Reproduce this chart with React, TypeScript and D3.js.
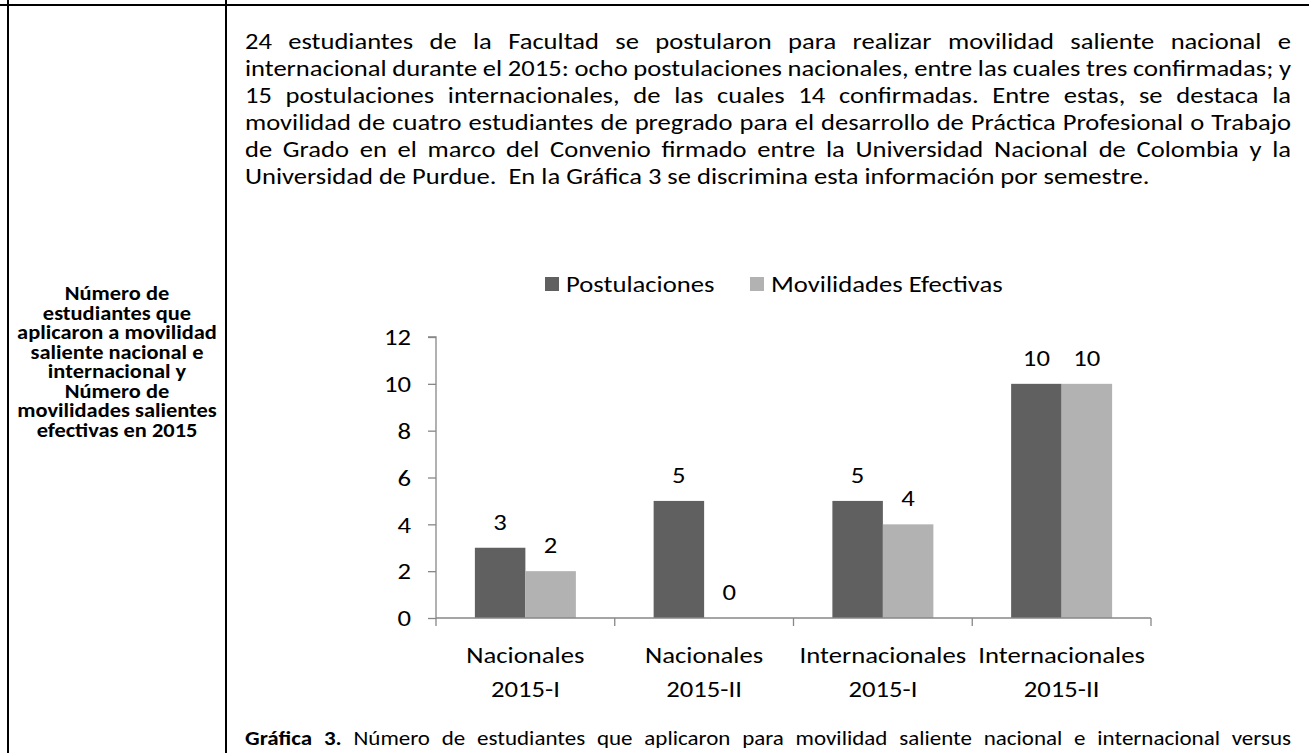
import React, { useEffect, useRef } from "react";
import * as d3 from "d3";

const categories = ["Nacionales|2015-I", "Nacionales|2015-II", "Internacionales|2015-I", "Internacionales|2015-II"];
const seriesNames = ["Postulaciones", "Movilidades Efectivas"];
const postulaciones = [3, 5, 5, 10];
const movilidades = [2, 0, 4, 10];
const yTicks = [0, 2, 4, 6, 8, 10, 12];

const bodyLines = [
    "24 estudiantes de la Facultad se postularon para realizar movilidad saliente nacional e",
    "internacional durante el 2015: ocho postulaciones nacionales, entre las cuales tres confirmadas; y",
    "15 postulaciones internacionales, de las cuales 14 confirmadas. Entre estas, se destaca la",
    "movilidad de cuatro estudiantes de pregrado para el desarrollo de Práctica Profesional o Trabajo",
    "de Grado en el marco del Convenio firmado entre la Universidad Nacional de Colombia y la",
    "Universidad de Purdue.  En la Gráfica 3 se discrimina esta información por semestre."
];

const sideLines = [
    "Número de",
    "estudiantes que",
    "aplicaron a movilidad",
    "saliente nacional e",
    "internacional y",
    "Número de",
    "movilidades salientes",
    "efectivas en 2015"
];

const captionBold = ["Gráfica", "3."];
const captionText = "Número de estudiantes que aplicaron para movilidad saliente nacional e internacional versus";

const FONT = "Calibri, Carlito, Lato, sans-serif";
const W = 1309;
const H = 753;
// the scan is a bit wider than tall, so text glyphs get stretched sideways
const SX = 1.15;

type G = d3.Selection<SVGGElement, unknown, null, undefined>;

const App = () => {
    const ref = useRef<SVGSVGElement>(null);

    useEffect(() => {
        const svg = d3.select(ref.current);
        svg.selectAll("*").remove();

        const put = (g: G, x: number, y: number, t: string | number, anchor = "start") =>
            g.append("text")
                .attr("transform", `translate(${x},${y}) scale(${SX},1)`)
                .attr("text-anchor", anchor)
                .style("white-space", "pre")
                .text(t);

        // table borders
        const border = svg.append("g").attr("stroke", "#000").attr("stroke-width", 2);
        border.append("line").attr("x1", 0).attr("x2", W).attr("y1", 5).attr("y2", 5);
        border.append("line").attr("x1", 8).attr("x2", 8).attr("y1", 0).attr("y2", H);
        border.append("line").attr("x1", 226).attr("x2", 226).attr("y1", 0).attr("y2", H);

        // justified line: words placed one by one
        const justify = (g: G, words: { t: string, bold?: boolean }[], x0: number, x1: number, y: number) => {
            const nodes = words.map(w => put(g, 0, y, w.t).attr("font-weight", w.bold ? "bold" : "normal"));
            const widths = nodes.map(n => (n.node() as SVGTextElement).getComputedTextLength() * SX);
            const gap = (x1 - x0 - d3.sum(widths)) / (words.length - 1);
            let x = x0;
            nodes.forEach((n, i) => {
                n.attr("transform", `translate(${x},${y}) scale(${SX},1)`);
                x += widths[i] + gap;
            });
        };

        const body = svg.append("g")
            .attr("font-family", FONT)
            .attr("font-size", 23.1)
            .attr("fill", "#000");
        bodyLines.forEach((line, i) => {
            const yy = 48.5 + i * 27;
            if (i < bodyLines.length - 1) {
                justify(body, line.split(/\s+/).map(t => ({ t })), 245, 1291, yy);
            } else {
                put(body, 245, yy, line);
            }
        });

        const caption = svg.append("g")
            .attr("font-family", FONT)
            .attr("font-size", 20)
            .attr("fill", "#000");
        justify(caption, captionBold.map(t => ({ t, bold: true }))
            .concat(captionText.split(" ").map(t => ({ t, bold: false }))), 245, 1291, 745);

        // left cell
        const side = svg.append("g")
            .attr("font-family", FONT)
            .attr("font-size", 19.5)
            .attr("font-weight", "bold");
        sideLines.forEach((t, i) => put(side, 117, 300 + i * 19.5, t, "middle"));

        // chart
        const y = d3.scaleLinear().domain([0, 12]).range([618, 337]);
        const x0 = d3.scaleBand<string>().domain(categories).range([436, 1151]).padding(0);
        const x1 = d3.scaleBand<string>().domain(seriesNames).range([0, x0.bandwidth()])
            .paddingInner(0).paddingOuter(0.77);
        const colors = ["#606060", "#b2b2b2"];
        const values = [postulaciones, movilidades];

        const chart = svg.append("g").attr("font-family", FONT).attr("font-size", 23.2).attr("fill", "#000");

        seriesNames.forEach((s, si) => {
            chart.append("g")
                .selectAll("rect")
                .data(categories)
                .join("rect")
                .attr("x", c => (x0(c) as number) + (x1(s) as number))
                .attr("width", x1.bandwidth())
                .attr("y", (_, i) => y(values[si][i]))
                .attr("height", (_, i) => y(0) - y(values[si][i]))
                .attr("fill", colors[si]);

            categories.forEach((c, i) => {
                const cx = (x0(c) as number) + (x1(s) as number) + x1.bandwidth() / 2;
                put(chart, cx, y(values[si][i]) - 18, values[si][i], "middle");
            });
        });

        // y axis
        chart.append("g")
            .attr("transform", "translate(436,0)")
            .call(d3.axisLeft(y).tickValues(yTicks).tickSize(8).tickFormat(() => ""))
            .call(g => g.selectAll("line, path").attr("stroke", "#878787").attr("stroke-width", 1.3))
            .call(g => g.select(".domain").attr("d", `M-8,${y(12)}H0V${y(0)}`));
        yTicks.forEach(v => put(chart, 411, y(v) + 8.3, v, "end"));

        // x axis, ticks between categories
        const xAxis = chart.append("g").attr("stroke", "#878787").attr("stroke-width", 1.3);
        xAxis.append("line").attr("x1", 436).attr("x2", 1151).attr("y1", y(0)).attr("y2", y(0));
        const bounds = categories.map(c => x0(c) as number).concat([1151]);
        xAxis.selectAll("line.tick")
            .data(bounds)
            .join("line")
            .attr("class", "tick")
            .attr("x1", d => d).attr("x2", d => d)
            .attr("y1", y(0)).attr("y2", y(0) + 8);

        categories.forEach(c => {
            const cx = (x0(c) as number) + x0.bandwidth() / 2;
            c.split("|").forEach((part, li) => put(chart, cx, 663 + li * 34, part, "middle"));
        });

        // legend
        const legendX = [545, 750];
        seriesNames.forEach((s, i) => {
            chart.append("rect")
                .attr("x", legendX[i]).attr("y", 277)
                .attr("width", 14).attr("height", 14)
                .attr("fill", colors[i]);
            put(chart, legendX[i] + 21, 292, s);
        });
    }, []);

    return (
        <div style={{ position: "absolute", left: 0, top: 0 }}>
            <svg ref={ref} width={W} height={H} style={{ display: "block", background: "#fff" }} />
        </div>
    );
};

export default App;
